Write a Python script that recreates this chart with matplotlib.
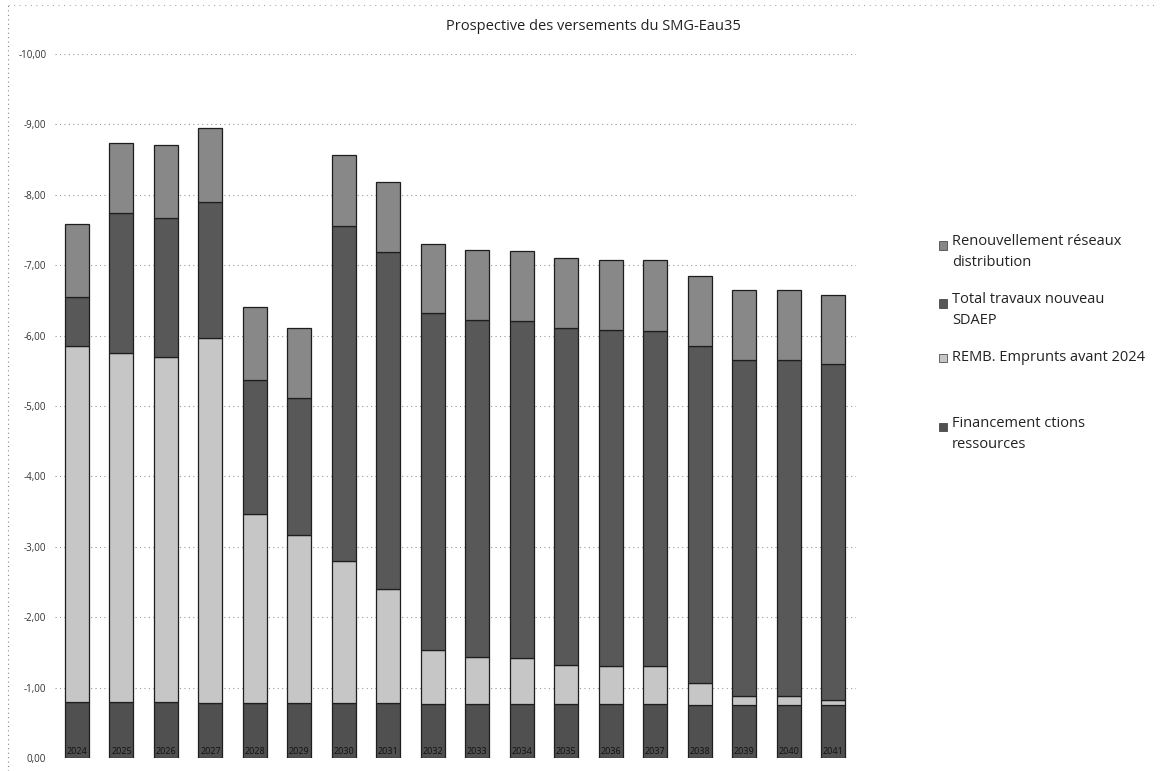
import matplotlib.pyplot as plt
from matplotlib.patches import Rectangle
from matplotlib.lines import Line2D
import numpy as np

plt.rcParams['font.family'] = ['Open Sans', 'DejaVu Sans']

# Versements annuels (M EUR, en négatif), empilés de bas en haut
years = [str(y) for y in range(2024, 2042)]
financement = [-0.80, -0.80, -0.79, -0.78, -0.78, -0.78, -0.78, -0.78, -0.77,
               -0.77, -0.77, -0.76, -0.76, -0.76, -0.75, -0.75, -0.75, -0.75]
remb_emprunts = [-5.05, -4.95, -4.91, -5.19, -2.69, -2.39, -2.01, -1.62, -0.76,
                 -0.66, -0.65, -0.56, -0.55, -0.54, -0.32, -0.13, -0.13, -0.07]
travaux_sdaep = [-0.70, -1.99, -1.97, -1.93, -1.90, -1.94, -4.76, -4.78, -4.79,
                 -4.79, -4.78, -4.78, -4.77, -4.77, -4.78, -4.77, -4.77, -4.78]
renouvellement = [-1.03, -0.99, -1.03, -1.05, -1.04, -1.00, -1.02, -1.00, -0.98,
                  -0.99, -1.00, -1.00, -1.00, -1.00, -1.00, -1.00, -1.00, -0.98]

series = [
    ("Financement ctions\nressources", financement, "#505050"),
    ("REMB. Emprunts avant 2024", remb_emprunts, "#c6c6c6"),
    ("Total travaux nouveau\nSDAEP", travaux_sdaep, "#585858"),
    ("Renouvellement réseaux\ndistribution", renouvellement, "#888888"),
]

fig = plt.figure(figsize=(11.64, 7.71), dpi=100)
ax = fig.add_axes([0.047, 0.017, 0.688, 0.913])

x = np.arange(len(years))
bottom = np.zeros(len(years))
for name, vals, color in series:
    vals = np.array(vals)
    ax.bar(x, vals, bottom=bottom, width=0.54, color=color,
           edgecolor="#1e1e1e", linewidth=0.9, zorder=3)
    bottom += vals

ax.set_ylim(0, -10)
ax.set_xlim(-0.5, len(years) - 0.5)
ax.set_yticks(np.arange(0, -10.5, -1))
ax.yaxis.set_major_formatter(
    lambda v, p: "0,00" if abs(v) < 1e-9 else f"{v:.2f}".replace(".", ","))
ax.tick_params(axis="y", length=0, labelsize=7, pad=6, labelcolor="#333333")
ax.grid(axis="y", linestyle=(0, (1, 3)), color="#9a9a9a", linewidth=0.8, zorder=0)

# années écrites en bas des barres
ax.set_xticks([])
for xi, yr in zip(x, years):
    ax.text(xi, -0.02, yr, ha="center", va="bottom", fontsize=6.5,
            color="#111111", zorder=5)

for s in ax.spines.values():
    s.set_visible(False)

fig.text(0.51, 0.966, "Prospective des versements du SMG-Eau35",
         ha="center", va="center", fontsize=10.5, color="#222222")

# légende à droite
legend_y = [0.682, 0.607, 0.536, 0.447]
for (name, vals, color), ly in zip(series[::-1], legend_y):
    fig.patches.append(Rectangle((0.807, ly - 0.006), 0.0065, 0.011,
                                 transform=fig.transFigure, facecolor=color,
                                 edgecolor="#333333", linewidth=0.5))
    if "\n" in name:
        fig.text(0.818, ly + 0.014, name, ha="left", va="top",
                 fontsize=10.5, color="#222222", linespacing=1.55)
    else:
        fig.text(0.818, ly, name, ha="left", va="center",
                 fontsize=10.5, color="#222222")

# bordure pointillée du cadre
fig.add_artist(Line2D([0.007, 0.007], [0.0, 0.995], transform=fig.transFigure,
                      linestyle=(0, (1, 3)), color="#888888", linewidth=0.8))
fig.add_artist(Line2D([0.007, 0.995], [0.993, 0.993], transform=fig.transFigure,
                      linestyle=(0, (1, 4)), color="#aaaaaa", linewidth=0.8))

fig.savefig("out.png", dpi=100)
